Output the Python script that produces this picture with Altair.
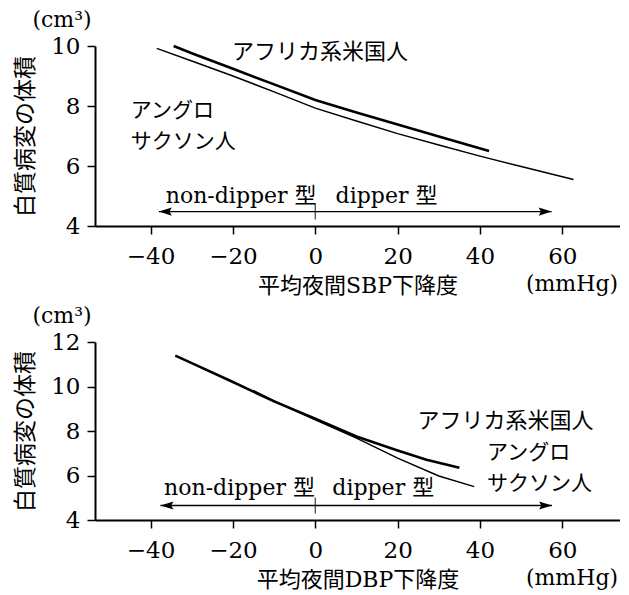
import altair as alt
import pandas as pd

# ---------------- data ----------------
x_domain = [-53.5, 74]
x_ticks = [-40, -20, 0, 20, 40, 60]

# Top panel: nocturnal SBP fall
sbp_y_domain = [4, 10]
sbp_y_ticks = [4, 6, 8, 10]
sbp_aa_x = [-34.4, -30, -20, -10, 0, 10, 20, 30, 42.2]
sbp_aa_y = [10.0, 9.76, 9.24, 8.72, 8.2, 7.78, 7.38, 6.98, 6.5]
sbp_as_x = [-38.5, -30, -20, -10, 0, 10, 20, 30, 40, 50, 62.7]
sbp_as_y = [9.92, 9.5, 9.0, 8.47, 7.93, 7.5, 7.08, 6.7, 6.33, 5.98, 5.55]

# Bottom panel: nocturnal DBP fall
dbp_y_domain = [4, 12]
dbp_y_ticks = [4, 6, 8, 10, 12]
dbp_aa_x = [-34, -30, -20, -10, 0, 10, 20, 27, 35]
dbp_aa_y = [11.39, 11.05, 10.2, 9.33, 8.55, 7.75, 7.12, 6.71, 6.35]
dbp_as_x = [-15, -10, 0, 10, 20, 30, 38.6]
dbp_as_y = [9.82, 9.35, 8.5, 7.68, 6.78, 5.98, 5.5]

# series labels (one row per printed line)
label_texts = ["アフリカ系米国人", "アングロ", "サクソン人"]
label_sizes = [22, 21, 21]
sbp_label_x = [-20.2, -44.8, -44.8]
sbp_label_y = [9.8, 7.83, 6.8]
dbp_label_x = [24.8, 41.7, 41.7]
dbp_label_y = [8.46, 7.02, 5.63]

dip_texts = ["non-dipper 型", "dipper 型"]
sbp_dip_x = [-18.0, 17.3]
sbp_dip_y = 5.0
dbp_dip_x = [-18.4, 16.5]
dbp_dip_y = 5.42

sbp_arrow = (-38.0, 57.4, 4.48)
dbp_arrow = (-37.6, 57.5, 4.65)

y_title = "白質病変の体積"
unit_y = "(cm³)"
unit_x = "(mmHg)"
sbp_x_title = "平均夜間SBP下降度"
dbp_x_title = "平均夜間DBP下降度"

SERIF = "DejaVu Serif, Noto Sans CJK JP"
GOTHIC = "Noto Sans CJK JP"
W = 525
LEFT_HEAD = "M-1,0L1,-0.62L0.65,0L1,0.62Z"
RIGHT_HEAD = "M1,0L-1,-0.62L-0.65,0L-1,0.62Z"


def panel(aa_x, aa_y, as_x, as_y, y_dom, y_ticks, x_title, lab_x, lab_y,
          dip_x, dip_y, arrow, H):
    xs = alt.Scale(domain=x_domain, nice=False, zero=False)
    ys = alt.Scale(domain=y_dom, nice=False, zero=False)
    xaxis = alt.Axis(values=x_ticks, title=x_title, grid=False,
                     tickSize=8, tickWidth=1.5, tickColor="black",
                     domainWidth=2, domainColor="black",
                     labelFont=SERIF, labelFontSize=23, labelColor="black",
                     labelPadding=11, labelFlush=False,
                     titleFont=SERIF, titleFontSize=22, titleFontWeight="normal",
                     titleColor="black", titleBaseline="middle", titleY=59)
    yaxis = alt.Axis(values=y_ticks, title=y_title, grid=False,
                     tickSize=8, tickWidth=1.5, tickColor="black",
                     domainWidth=2, domainColor="black",
                     labelFont=SERIF, labelFontSize=23, labelColor="black",
                     labelPadding=7, labelFlush=False,
                     titleFont=GOTHIC, titleFontSize=23, titleFontWeight="normal",
                     titleColor="black", titleAngle=270, titleAlign="center",
                     titleBaseline="middle", titleX=-70, titleY=H / 2)

    X = alt.X("x:Q", scale=xs, axis=xaxis)
    Y = alt.Y("y:Q", scale=ys, axis=yaxis)

    aa = alt.Chart(pd.DataFrame({"x": aa_x, "y": aa_y})).mark_line(
        color="black", strokeWidth=2.6).encode(x=X, y=Y)
    an = alt.Chart(pd.DataFrame({"x": as_x, "y": as_y})).mark_line(
        color="black", strokeWidth=1.5).encode(x=X, y=Y)

    labels = alt.Chart(pd.DataFrame({"x": lab_x, "y": lab_y, "t": label_texts,
                                     "s": label_sizes})).mark_text(
        font=GOTHIC, align="left", baseline="middle", color="black"
    ).encode(x=X, y=Y, text="t:N", size=alt.Size("s:Q", scale=None))

    dips = alt.Chart(pd.DataFrame({"x": dip_x, "y": [dip_y, dip_y], "t": dip_texts})).mark_text(
        font=SERIF, fontSize=22, align="center", baseline="middle", color="black"
    ).encode(x=X, y=Y, text="t:N")

    arr = alt.Chart(pd.DataFrame({"x": [arrow[0]], "x2": [arrow[1]], "y": [arrow[2]]})).mark_rule(
        color="black", strokeWidth=1.4).encode(x=X, x2="x2:Q", y=Y)
    lhead = alt.Chart(pd.DataFrame({"x": [arrow[0]], "y": [arrow[2]]})).mark_point(
        shape=LEFT_HEAD, size=169, filled=True, color="black", opacity=1, xOffset=6.5
    ).encode(x=X, y=Y)
    rhead = alt.Chart(pd.DataFrame({"x": [arrow[1]], "y": [arrow[2]]})).mark_point(
        shape=RIGHT_HEAD, size=169, filled=True, color="black", opacity=1, xOffset=-6.5
    ).encode(x=X, y=Y)
    zero_tick = alt.Chart(pd.DataFrame({"x": [0], "y": [arrow[2]]})).mark_tick(
        orient="vertical", size=16, thickness=1.3, color="black"
    ).encode(x=X, y=Y)

    unit_cm = alt.Chart(pd.DataFrame({"t": [unit_y]})).mark_text(
        font=SERIF, fontSize=22, align="center", baseline="middle", color="black"
    ).encode(x=alt.value(-33), y=alt.value(-26), text="t:N")
    unit_mm = alt.Chart(pd.DataFrame({"t": [unit_x]})).mark_text(
        font=SERIF, fontSize=22, align="center", baseline="middle", color="black"
    ).encode(x=alt.value(477), y=alt.value(H + 58), text="t:N")

    return alt.layer(aa, an, labels, dips, arr, lhead, rhead, zero_tick,
                     unit_cm, unit_mm).properties(width=W, height=H)


top = panel(sbp_aa_x, sbp_aa_y, sbp_as_x, sbp_as_y, sbp_y_domain, sbp_y_ticks,
            sbp_x_title, sbp_label_x, sbp_label_y, sbp_dip_x, sbp_dip_y, sbp_arrow, 180)
bottom = panel(dbp_aa_x, dbp_aa_y, dbp_as_x, dbp_as_y, dbp_y_domain, dbp_y_ticks,
               dbp_x_title, dbp_label_x, dbp_label_y, dbp_dip_x, dbp_dip_y, dbp_arrow, 178)

chart = alt.vconcat(top, bottom, spacing=116, bounds="flush").properties(
    padding={"left": 14, "top": 9, "right": 0, "bottom": 0},
    background="white",
).configure_view(stroke=None)

chart.save("out.html", embed_options={"renderer": "svg", "actions": False})
